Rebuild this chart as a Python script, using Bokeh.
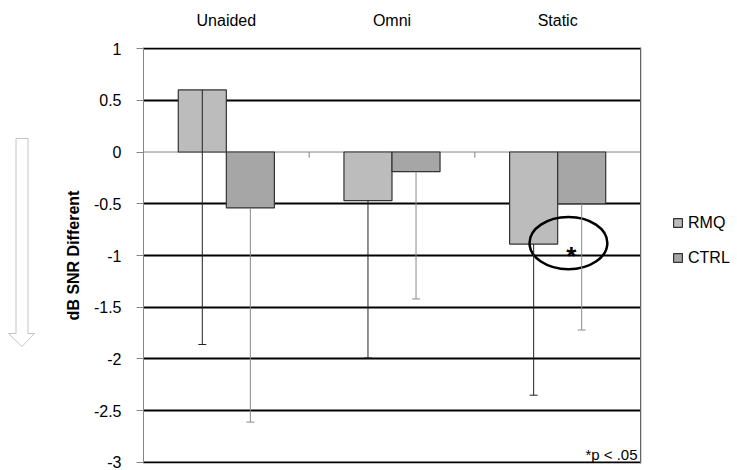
from bokeh.plotting import figure
from bokeh.layouts import row
from bokeh.models import (ColumnDataSource, FixedTicker, Whisker, TeeHead,
                          Legend, LegendItem, Label, Range1d)
from bokeh.embed import file_html
from bokeh.resources import INLINE

# ---- data -------------------------------------------------------------
conditions = ["Unaided", "Omni", "Static"]
rmq_values = [0.60, -0.47, -0.89]
rmq_err_minus = [2.46, 1.52, 1.46]
ctrl_values = [-0.54, -0.19, -0.50]
ctrl_err_minus = [2.07, 1.23, 1.22]
y_ticks = [1, 0.5, 0, -0.5, -1, -1.5, -2, -2.5, -3]
y_tick_labels = ["1", "0.5", "0", "-0.5", "-1", "-1.5", "-2", "-2.5", "-3"]

FONT = "Liberation Sans"
RMQ_FILL = "#bcbcbc"
CTRL_FILL = "#a6a6a6"
BAR_EDGE = "#333333"
BAR_W = 0.29
OFFSET = 0.145

H = 470
ARROW_W, MAIN_W, LEGEND_W = 40, 600, 97
FRAME_TOP, FRAME_BOTTOM = 47, 463  # frames in the row share these edges

centers = [i + 0.5 for i in range(len(conditions))]

rmq_src = ColumnDataSource(dict(
    x=[c - OFFSET for c in centers],
    top=rmq_values,
    lower=[v - e for v, e in zip(rmq_values, rmq_err_minus)],
))
ctrl_src = ColumnDataSource(dict(
    x=[c + OFFSET for c in centers],
    top=ctrl_values,
    lower=[v - e for v, e in zip(ctrl_values, ctrl_err_minus)],
))


def bare_figure(width, x_range, y_range):
    f = figure(width=width, height=H, output_backend="svg", toolbar_location=None,
               x_range=x_range, y_range=y_range,
               x_axis_location=None, y_axis_location=None,
               min_border=0, min_border_left=0, min_border_right=0,
               min_border_top=0, min_border_bottom=0)
    f.outline_line_color = None
    f.grid.visible = False
    f.background_fill_color = "white"
    f.border_fill_color = "white"
    return f


# ---- hollow downward arrow (pixel space, y pointing down) --------------
arrow = bare_figure(ARROW_W, Range1d(0, ARROW_W), Range1d(FRAME_BOTTOM, FRAME_TOP))
arrow.patch(x=[15.5, 27.5, 27.5, 34, 21.5, 8, 15.5],
            y=[138, 138, 333, 333, 346, 333, 333],
            fill_color="white", line_color="#c4c4c4", line_width=1)

# ---- main chart -------------------------------------------------------
p = figure(width=MAIN_W, height=H, output_backend="svg", toolbar_location=None,
           x_range=Range1d(0, len(conditions)), y_range=Range1d(-3.01, 1.01),
           x_axis_location="above",
           min_border_left=103, min_border_right=0,
           min_border_top=FRAME_TOP, min_border_bottom=H - FRAME_BOTTOM)
p.outline_line_color = None
p.background_fill_color = "white"
p.border_fill_color = "white"

xa = p.xaxis[0]
xa.ticker = FixedTicker(ticks=centers)
xa.major_label_overrides = {c: name for c, name in zip(centers, conditions)}
xa.axis_line_color = None
xa.major_tick_line_color = None
xa.minor_tick_line_color = None
xa.major_label_standoff = 13
xa.major_label_text_font = FONT
xa.major_label_text_font_size = "16px"
xa.major_label_text_color = "black"

ya = p.yaxis[0]
ya.ticker = FixedTicker(ticks=y_ticks)
ya.major_label_overrides = {t: s for t, s in zip(y_ticks, y_tick_labels)}
ya.axis_line_color = "#868686"
ya.major_tick_line_color = "#868686"
ya.major_tick_out = 7
ya.major_tick_in = 0
ya.minor_tick_line_color = None
ya.major_label_standoff = 15
ya.major_label_text_font = FONT
ya.major_label_text_font_size = "16px"
ya.major_label_text_color = "black"
ya.axis_label = "dB SNR Different"
ya.axis_label_text_font = FONT
ya.axis_label_text_font_size = "16px"
ya.axis_label_text_font_style = "bold"
ya.axis_label_text_color = "black"
ya.axis_label_standoff = 9

p.xgrid.visible = False
p.ygrid.ticker = FixedTicker(ticks=[t for t in y_ticks if t != 0])
p.ygrid.grid_line_color = "black"
p.ygrid.grid_line_width = 2

# zero line with category separators
p.segment(x0=0, x1=len(conditions), y0=0, y1=0, line_color="#868686", line_width=1)
bounds = list(range(1, len(conditions) + 1))
p.segment(x0=bounds, x1=bounds, y0=[0] * len(bounds), y1=[-0.055] * len(bounds),
          line_color="#868686", line_width=1)

# bars
p.vbar(x="x", top="top", bottom=0, width=BAR_W, source=rmq_src,
       fill_color=RMQ_FILL, line_color=BAR_EDGE, line_width=1.2)
p.vbar(x="x", top="top", bottom=0, width=BAR_W, source=ctrl_src,
       fill_color=CTRL_FILL, line_color=BAR_EDGE, line_width=1.2)

# minus-only error bars
p.add_layout(Whisker(source=rmq_src, base="x", upper="top", lower="lower",
                     line_color="#222222", line_width=1, upper_head=None,
                     lower_head=TeeHead(size=8, line_color="#222222", line_width=1),
                     level="overlay"))
p.add_layout(Whisker(source=ctrl_src, base="x", upper="top", lower="lower",
                     line_color="#8a8a8a", line_width=1, upper_head=None,
                     lower_head=TeeHead(size=8, line_color="#8a8a8a", line_width=1),
                     level="overlay"))

# significance marker around the Static pair
p.ellipse(x=2.565, y=-0.88, width=0.47, height=0.505, fill_color=None,
          line_color="black", line_width=2.5)
p.add_layout(Label(x=2.583, y=-1.0, text="*", text_align="center",
                   text_baseline="alphabetic", text_font=FONT, text_font_size="26px",
                   text_font_style="bold", text_color="black"))
p.add_layout(Label(x=2.982, y=-2.925, text="*p < .05", text_align="right",
                   text_baseline="alphabetic", text_font=FONT, text_font_size="15px",
                   text_color="black"))

# ---- legend -----------------------------------------------------------
leg = bare_figure(LEGEND_W, Range1d(0, 1), Range1d(0, 1))
# key glyphs sit outside the visible range; only their legend swatches show
rmq_key = leg.vbar(x=[-5], top=[1], width=0.1, fill_color=RMQ_FILL,
                   line_color=BAR_EDGE, line_width=1.2)
ctrl_key = leg.vbar(x=[-5], top=[1], width=0.1, fill_color=CTRL_FILL,
                    line_color=BAR_EDGE, line_width=1.2)
legend = Legend(items=[LegendItem(label="RMQ", renderers=[rmq_key]),
                       LegendItem(label="CTRL", renderers=[ctrl_key])],
                location=(32, FRAME_BOTTOM - 267.5), orientation="vertical",
                glyph_width=11, glyph_height=11, label_standoff=5,
                label_height=20, spacing=15, padding=0, margin=0,
                border_line_color=None, background_fill_alpha=0,
                label_text_font=FONT, label_text_font_size="16px",
                label_text_color="black")
leg.add_layout(legend, "center")

layout = row(arrow, p, leg, spacing=0)
open("out.html", "w").write(file_html(layout, INLINE))
